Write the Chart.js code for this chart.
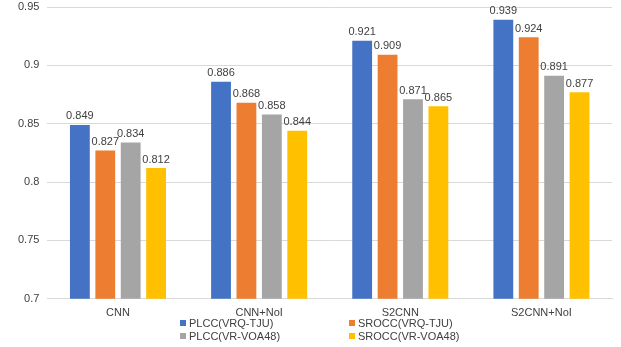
<!DOCTYPE html>
<html>
<head>
<meta charset="utf-8">
<script src="https://cdn.jsdelivr.net/npm/chart.js@4"></script>
<style>
  html, body { margin: 0; padding: 0; background: #fff; }
  #wrap { position: relative; width: 621px; height: 347px; }
  #legend {
    position: absolute; left: 180px; top: 316px;
    display: grid; grid-template-columns: 169px 160px; row-gap: 0px;
    font: 11px "Liberation Sans", Arial, sans-serif; color: #404040;
  }
  #legend div { display: flex; align-items: center; height: 13px; }
  #legend span.box { width: 6px; height: 6px; margin-right: 3px; display: inline-block; }
</style>
</head>
<body>
<div id="wrap">
  <canvas id="chart" width="621" height="347"></canvas>
  <div id="legend"></div>
</div>
<script>
const categories = ['CNN', 'CNN+NoI', 'S2CNN', 'S2CNN+NoI'];
const seriesNames = ['PLCC(VRQ-TJU)', 'SROCC(VRQ-TJU)', 'PLCC(VR-VOA48)', 'SROCC(VR-VOA48)'];
const plccVrq = [0.849, 0.886, 0.921, 0.939];
const sroccVrq = [0.827, 0.868, 0.909, 0.924];
const plccVoa = [0.834, 0.858, 0.871, 0.891];
const sroccVoa = [0.812, 0.844, 0.865, 0.877];
const seriesColors = ['#4472C4', '#ED7D31', '#A5A5A5', '#FFC000'];
// legend is laid out 2x2 like the original
const legendOrder = [0, 1, 2, 3];

const values = [plccVrq, sroccVrq, plccVoa, sroccVoa];
const fontFamily = '"Liberation Sans", Arial, sans-serif';

const valueLabels = {
  id: 'valueLabels',
  afterDatasetsDraw(chart) {
    const { ctx } = chart;
    ctx.save();
    ctx.font = `11px ${fontFamily}`;
    ctx.fillStyle = '#404040';
    ctx.textAlign = 'center';
    ctx.textBaseline = 'bottom';
    chart.data.datasets.forEach((ds, i) => {
      chart.getDatasetMeta(i).data.forEach((bar, j) => {
        ctx.fillText(ds.data[j].toFixed(3), bar.x, bar.y - 3);
      });
    });
    ctx.restore();
  },
};

const chart = new Chart(document.getElementById('chart'), {
  type: 'bar',
  data: {
    labels: categories,
    datasets: values.map((data, i) => ({
      label: seriesNames[i],
      data,
      backgroundColor: seriesColors[i],
      borderWidth: 0,
      barPercentage: 0.78,
      categoryPercentage: 0.72,
    })),
  },
  options: {
    responsive: false,
    animation: false,
    layout: {
      padding: { top: 7, right: 9, bottom: 27, left: 10 },
    },
    plugins: {
      legend: { display: false },
      tooltip: { enabled: false },
    },
    scales: {
      x: {
        grid: { display: false },
        border: { color: '#d9d9d9' },
        ticks: {
          color: '#404040',
          font: { family: fontFamily, size: 11 },
          padding: 0,
        },
      },
      y: {
        min: 0.7,
        max: 0.95,
        afterFit(scale) {
          // let the top tick label sit in the padding, as in the original
          scale.paddingTop = 0;
        },
        ticks: {
          stepSize: 0.05,
          color: '#404040',
          font: { family: fontFamily, size: 11 },
          padding: 8,
          callback: v => String(Math.round(v * 100) / 100),
        },
        grid: { color: '#d9d9d9', drawTicks: false },
        border: { display: false },
      },
    },
  },
  plugins: [valueLabels],
});

const legendEl = document.getElementById('legend');
legendOrder.forEach(i => {
  const item = document.createElement('div');
  const box = document.createElement('span');
  box.className = 'box';
  box.style.background = seriesColors[i];
  item.appendChild(box);
  item.appendChild(document.createTextNode(seriesNames[i]));
  legendEl.appendChild(item);
});
</script>
</body>
</html>
